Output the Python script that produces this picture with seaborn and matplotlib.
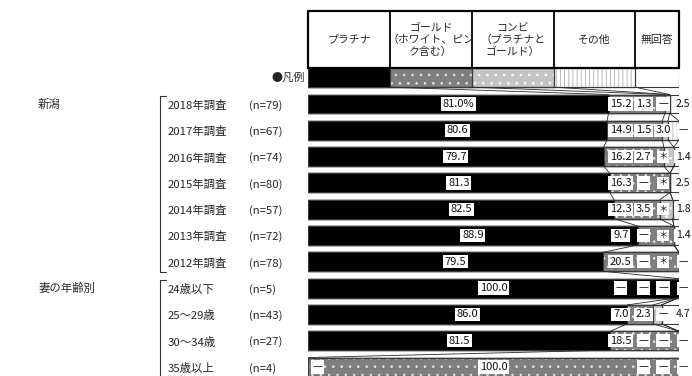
import numpy as np
import pandas as pd
import matplotlib
matplotlib.use('Agg')
import matplotlib.pyplot as plt
import matplotlib.transforms as mtransforms
from matplotlib.patches import Rectangle
import seaborn as sns

# values ('—' = none, '＊' = less than 0.5)
categories = ['2018年調査', '2017年調査', '2016年調査', '2015年調査', '2014年調査',
              '2013年調査', '2012年調査', '24歳以下', '25～29歳', '30～34歳', '35歳以上']
n_labels = ['(n=79)', '(n=67)', '(n=74)', '(n=80)', '(n=57)', '(n=72)', '(n=78)',
            '(n=5)', '(n=43)', '(n=27)', '(n=4)']
groups = ['新潟', '妻の年齢別']
group_sizes = [7, 4]
platinum = ['81.0', '80.6', '79.7', '81.3', '82.5', '88.9', '79.5', '100.0', '86.0', '81.5', '—']
gold = ['15.2', '14.9', '16.2', '16.3', '12.3', '9.7', '20.5', '—', '7.0', '18.5', '100.0']
combi = ['1.3', '1.5', '2.7', '—', '3.5', '—', '—', '—', '2.3', '—', '—']
other = ['—', '3.0', '＊', '＊', '＊', '＊', '＊', '—', '—', '—', '—']
no_answer = ['2.5', '—', '1.4', '2.5', '1.8', '1.4', '—', '—', '4.7', '—', '—']
series_names = ['プラチナ', 'ゴールド\n（ホワイト、ピン\nク含む）', 'コンビ\n（プラチナと\nゴールド）',
                'その他', '無回答']

sns.set_theme(style='white')
plt.rcParams['font.family'] = ['Noto Sans CJK JP', 'DejaVu Sans']
plt.rcParams['hatch.linewidth'] = 0.6

W, H = 692, 376
fig = plt.figure(figsize=(W / 100, H / 100), dpi=100)


def num(s):
    return 0.0 if s in ('—', '＊') else float(s)


# legend key row drawn as an extra bar (cell widths of the header table)
legend_widths = [22.1, 22.1, 22.1, 21.8, 11.9]

series = [platinum, gold, combi, other, no_answer]
rows = ['凡例'] + categories
vals = np.array([[legend_widths[k]] + [num(s) for s in series[k]] for k in range(5)])
cum = np.cumsum(vals, axis=0)
df = pd.DataFrame({'row': rows})
for k in range(5):
    df[f'cum{k}'] = cum[k]

# axes: row centres at 77.7 + 26.3*i px, bars 0.72 high
row_h = 26.3
top_px, y0 = 60, 77.7
ax = fig.add_axes([308 / W, 0, 371 / W, (H - top_px) / H])
bar_h = 0.72

styles = [
    ('black', None, None),
    ('#7f7f7f', '..', '#e8e8e8'),
    ('#c4c4c4', '..', 'white'),
    ('white', '||||', '#b0b0b0'),
    ('white', None, None),
]
for k in range(4, -1, -1):
    face, hatch, hcol = styles[k]
    sns.barplot(data=df, x=f'cum{k}', y='row', order=rows, orient='h', color=face,
                saturation=1, errorbar=None, width=bar_h, edgecolor='#3a3a3a',
                linewidth=0.8, ax=ax)
    if hatch:
        sns.barplot(data=df, x=f'cum{k}', y='row', order=rows, orient='h',
                    facecolor='none', edgecolor=hcol, linewidth=0, hatch=hatch,
                    errorbar=None, width=bar_h, ax=ax)
        sns.barplot(data=df, x=f'cum{k}', y='row', order=rows, orient='h',
                    facecolor='none', edgecolor='#3a3a3a', linewidth=0.8,
                    errorbar=None, width=bar_h, ax=ax)

# series lines between neighbouring bars
for i in range(len(rows) - 1):
    for k in range(4):
        ax.plot([cum[k][i], cum[k][i + 1]], [i + bar_h / 2, i + 1 - bar_h / 2],
                color='#2a2a2a', lw=0.6, zorder=3)

ax.set_xlim(0, 100)
ax.set_ylim((H - y0) / row_h, (top_px - y0) / row_h)
ax.axis('off')

# data labels
label_pos = [None, 84.3, 90.4, 95.7, 101.1]
box = dict(boxstyle='square,pad=0.15', fc='white', ec='none')
for i in range(len(categories)):
    r = i + 1
    for k in range(5):
        txt = series[k][i]
        v = vals[k][r]
        if k == 0:
            x = v / 2 if v > 0 else 2.5
            if i == 0:
                txt = txt + '%'
        elif k == 1 and v > 50:
            x = cum[0][r] + v / 2
        else:
            x = label_pos[k]
        fs = 6.8 if txt == '＊' else (7.6 if k == 4 else 8)
        ax.text(x, r, txt, ha='center', va='center', fontsize=fs, color='#111111',
                bbox=box, zorder=5, clip_on=False)

# left side labels and brackets
trans = mtransforms.blended_transform_factory(fig.transFigure, ax.transData)
for i, (c, n) in enumerate(zip(categories, n_labels)):
    ax.text(168 / W, i + 1.05, c, transform=trans, ha='left', va='center', fontsize=8.2,
            clip_on=False)
    ax.text(249 / W, i + 1.05, n, transform=trans, ha='left', va='center', fontsize=8.2,
            clip_on=False)
ax.text(305 / W, 0, '●凡例', transform=trans, ha='right', va='center', fontsize=8,
        clip_on=False)

start = 1
for g, size in zip(groups, group_sizes):
    ax.text(38 / W, start, g, transform=trans, ha='left', va='center', fontsize=8.2,
            clip_on=False)
    y_top = start - 0.3
    y_bot = start + size - 1 + 0.38
    xs = [166 / W, 160 / W, 160 / W, 166 / W]
    ax.plot(xs, [y_top, y_top, y_bot, y_bot], transform=trans, color='#333333',
            lw=0.8, clip_on=False)
    start += size

# header table
hax = fig.add_axes([308 / W, (H - 68) / H, 371 / W, 57 / H])
hax.set_xlim(0, 100)
hax.set_ylim(0, 1)
hax.axis('off')
hax.add_patch(Rectangle((0, 0), 100, 1, fill=False, ec='black', lw=1.6, clip_on=False))
edges = np.concatenate([[0], np.cumsum(legend_widths)])
for x in edges[1:-1]:
    hax.plot([x, x], [0, 1], color='black', lw=1.3)
for k, name in enumerate(series_names):
    hax.text((edges[k] + edges[k + 1]) / 2, 0.5, name, ha='center', va='center',
             fontsize=7.8, linespacing=1.2)

fig.savefig('out.png', dpi=100)
